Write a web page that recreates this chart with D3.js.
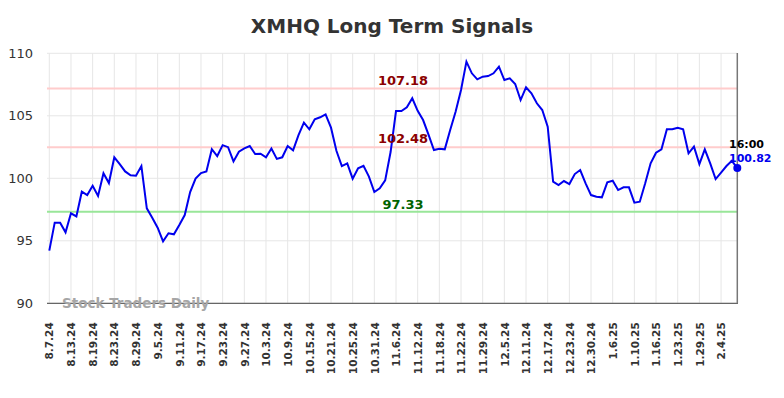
<!DOCTYPE html>
<html><head><meta charset="utf-8">
<script src="https://cdnjs.cloudflare.com/ajax/libs/d3/7.8.5/d3.min.js"></script>
<style>body{margin:0;background:#fff}svg{display:block}</style>
</head><body>
<script>
const tickLabels = ["8.7.24","8.13.24","8.19.24","8.23.24","8.29.24","9.5.24","9.11.24","9.17.24","9.23.24","9.27.24","10.3.24","10.9.24","10.15.24","10.21.24","10.25.24","10.31.24","11.6.24","11.12.24","11.18.24","11.22.24","11.29.24","12.5.24","12.11.24","12.17.24","12.23.24","12.30.24","1.6.25","1.10.25","1.16.25","1.23.25","1.29.25","2.4.25"];
const prices = [94.21,96.45,96.45,95.68,97.2,96.95,98.93,98.66,99.4,98.58,
100.4,99.62,101.68,101.14,100.55,100.24,100.2,100.98,97.6,96.85,
96.05,94.96,95.6,95.52,96.26,97.06,98.9,99.97,100.42,100.55,
102.33,101.78,102.65,102.49,101.35,102.13,102.4,102.58,101.94,101.97,
101.68,102.38,101.55,101.68,102.58,102.24,103.46,104.45,103.92,104.72,
104.88,105.12,104.05,102.2,100.98,101.2,99.97,100.8,101.0,100.13,
98.9,99.2,99.83,102.1,105.38,105.38,105.68,106.4,105.4,104.66,
103.5,102.26,102.37,102.32,103.86,105.33,107.06,109.33,108.4,107.92,
108.13,108.18,108.4,108.93,107.86,108.0,107.54,106.26,107.28,106.8,
106.0,105.46,104.13,99.73,99.46,99.78,99.54,100.34,100.66,99.6,
98.66,98.53,98.48,99.68,99.81,99.06,99.28,99.28,98.05,98.13,
99.6,101.2,102.05,102.32,103.92,103.92,104.05,103.92,102.0,102.53,
101.14,102.32,101.2,99.94,100.45,100.98,101.4,100.82];
const yTicks = [90,95,100,105,110];
const levels = [107.18, 102.48, 97.33];
const levelColors = ["#ffcccc","#ffcccc","#99e699"];
const levelTextColors = ["#8b0000","#8b0000","#006400"];

const W = 784, H = 398;
const svg = d3.select("body").append("svg").attr("width", W).attr("height", H);
const x = d3.scaleLinear().domain([0, prices.length - 1]).range([49.3, 737.3]);
const y = d3.scaleLinear().domain([90, 110]).range([303.3, 53.3]);
const tickIdx = tickLabels.map((d, i) => i * 4);

// grid
const g = svg.append("g");
g.selectAll(".vg").data(tickIdx).enter().append("line")
  .attr("x1", d => x(d)).attr("x2", d => x(d)).attr("y1", y(110)).attr("y2", y(90))
  .attr("stroke", "#e6e6e6").attr("stroke-width", 1);
g.selectAll(".hg").data(yTicks).enter().append("line")
  .attr("x1", 47).attr("x2", 737.3).attr("y1", d => y(d)).attr("y2", d => y(d))
  .attr("stroke", "#e6e6e6").attr("stroke-width", 1);

// level lines
svg.selectAll(".lv").data(levels).enter().append("line")
  .attr("x1", 47).attr("x2", 737.3).attr("y1", d => y(d)).attr("y2", d => y(d))
  .attr("stroke", (d, i) => levelColors[i]).attr("stroke-width", 2);

// y axis labels
const yAxis = d3.axisLeft(y).tickValues(yTicks).tickSize(0).tickPadding(14);
const ya = svg.append("g").attr("transform", "translate(47,0)").call(yAxis);
ya.select(".domain").remove();
ya.selectAll("text").attr("font-family", "DejaVu Sans, sans-serif").attr("font-size", 13).attr("fill", "#333");

// x axis
const xAxis = d3.axisBottom(x).tickValues(tickIdx).tickFormat((d, i) => tickLabels[i]).tickSize(0);
const xa = svg.append("g").attr("transform", "translate(0,303.3)").call(xAxis);
xa.select(".domain").remove();
xa.selectAll("text").attr("font-family", "DejaVu Sans, sans-serif").attr("font-size", 10.5)
  .attr("font-weight", "bold").attr("fill", "#333")
  .attr("text-anchor", "end").attr("dy", "0.35em")
  .attr("transform", "translate(0,19) rotate(-90)").attr("x", 0).attr("y", 0);

// axis lines
svg.append("line").attr("x1", 47).attr("x2", 738).attr("y1", 303.3).attr("y2", 303.3).attr("stroke", "#666").attr("stroke-width", 1.3);
svg.append("line").attr("x1", 737.3).attr("x2", 737.3).attr("y1", 53).attr("y2", 303.3).attr("stroke", "#777").attr("stroke-width", 1.5);

// watermark
svg.append("text").attr("x", 62).attr("y", 308).text("Stock Traders Daily")
  .attr("font-family", "DejaVu Sans, sans-serif").attr("font-size", 13.5).attr("font-weight", "bold").attr("fill", "#a6a6a6");

// price line
svg.append("path").datum(prices)
  .attr("d", d3.line().x((d, i) => x(i)).y(d => y(d)))
  .attr("fill", "none").attr("stroke", "#0000ee").attr("stroke-width", 2);

// level labels
svg.selectAll(".lt").data(levels).enter().append("text")
  .attr("x", 403).attr("y", (d, i) => y(d) + (i === 2 ? -3 : -4))
  .attr("text-anchor", "middle").text(d => d.toFixed(2))
  .attr("font-family", "DejaVu Sans, sans-serif").attr("font-size", 13).attr("font-weight", "bold")
  .attr("fill", (d, i) => levelTextColors[i]);

// end point
const last = prices.length - 1;
svg.append("circle").attr("cx", x(last)).attr("cy", y(prices[last])).attr("r", 4).attr("fill", "#0000ee");
svg.append("text").attr("x", 729).attr("y", 148).text("16:00")
  .attr("font-family", "DejaVu Sans, sans-serif").attr("font-size", 11).attr("font-weight", "bold").attr("fill", "#000");
svg.append("text").attr("x", 729).attr("y", 162).text(prices[last].toFixed(2))
  .attr("font-family", "DejaVu Sans, sans-serif").attr("font-size", 11).attr("font-weight", "bold").attr("fill", "#0000ee");

// title
svg.append("text").attr("x", 392).attr("y", 33).attr("text-anchor", "middle").text("XMHQ Long Term Signals")
  .attr("font-family", "DejaVu Sans, sans-serif").attr("font-size", 20).attr("font-weight", "bold").attr("fill", "#333");
</script>
</body></html>
